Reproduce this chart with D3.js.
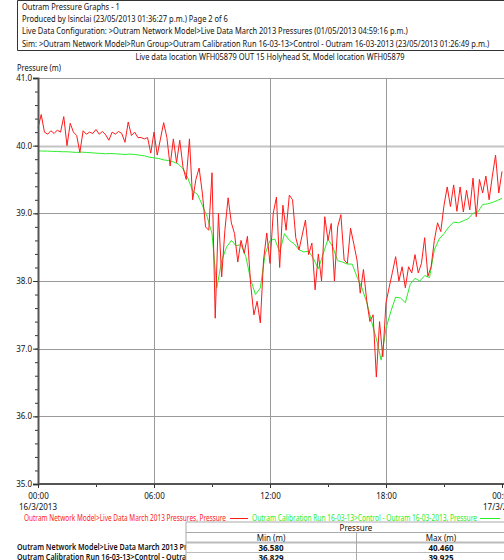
<!DOCTYPE html>
<html>
<head>
<meta charset="utf-8">
<script src="https://cdn.jsdelivr.net/npm/d3@7/dist/d3.min.js"></script>
<style>
  body { margin: 0; background: #fff; }
  svg { display: block; font-family: "Noto Sans", sans-serif; }
</style>
</head>
<body>
<script>
//header text lines
var headerLines = [
    "Outram Pressure Graphs - 1",
    "Produced by lsinclai (23/05/2013 01:36:27 p.m.) Page 2 of 6",
    "Live Data Configuration: >Outram Network Model>Live Data March 2013 Pressures (01/05/2013 04:59:16 p.m.)",
    "Sim: >Outram Network Model>Run Group>Outram Calibration Run 16-03-13>Control - Outram 16-03-2013 (23/05/2013 01:26:49 p.m.)"
];
var chartTitle = "Live data location WFH05879 OUT 15 Holyhead St, Model location WFH05879";
var yTitle = "Pressure (m)";

//series names
var liveName = "Outram Network Model>Live Data March 2013 Pressures, Pressure";
var modelName = "Outram Calibration Run 16-03-13>Control - Outram 16-03-2013, Pressure";

//live data, 10 minute steps from 16/3/2013 00:00
var liveValues = [
    40.26, 40.46, 40.20, 40.17, 40.22, 40.18, 40.23, 40.20, 40.43, 40.00,
    40.33, 40.20, 40.15, 39.90, 40.22, 40.17, 40.20, 40.18, 40.24, 40.17,
    40.21, 40.16, 40.08, 40.20, 40.17, 40.21, 40.18, 40.05, 40.35, 40.15,
    40.20, 40.12, 40.12, 40.10, 40.12, 39.89, 40.20, 39.86, 40.10, 40.34,
    40.12, 39.70, 40.10, 39.75, 40.08, 39.68, 39.50, 40.10, 39.20, 39.50,
    39.67, 39.30, 38.80, 38.75, 39.60, 37.45, 39.00, 38.06, 38.75, 39.23,
    38.86, 38.70, 38.28, 38.60, 38.41, 38.66, 37.95, 37.50, 37.70, 37.38,
    38.31, 38.71, 38.26, 39.00, 39.24, 38.20, 39.12, 38.75, 39.27, 39.20,
    38.64, 38.46, 38.68, 38.90, 38.39, 38.56, 37.87, 38.40, 38.00, 38.95,
    38.60, 38.85, 38.00, 38.80, 38.98, 38.31, 38.26, 38.78, 38.55, 38.31,
    37.82, 38.17, 37.72, 37.40, 37.50, 36.58, 37.40, 36.88, 37.68, 37.91,
    38.13, 38.36, 38.00, 38.21, 37.90, 38.21, 38.12, 38.39, 38.12, 38.26,
    38.64, 38.07, 38.21, 38.60, 38.86, 38.73, 39.12, 39.39, 39.10, 39.42,
    39.03, 39.39, 39.02, 39.34, 39.05, 39.52, 38.95, 39.50, 39.30, 39.55,
    39.20, 39.55, 39.86, 39.30, 39.62
];

//model data, 15 minute steps from 16/3/2013 00:00
var modelValues = [
    39.925, 39.92, 39.92, 39.915, 39.915, 39.91, 39.91, 39.905, 39.90, 39.905,
    39.90, 39.895, 39.89, 39.885, 39.88, 39.885, 39.88, 39.875, 39.87, 39.875,
    39.87, 39.86, 39.85, 39.83, 39.82, 39.81, 39.79, 39.78, 39.76, 39.73,
    39.66, 39.52, 39.33, 39.28, 39.12, 38.95, 38.70, 37.90, 38.30, 38.50,
    38.60, 38.52, 38.54, 38.36, 38.02, 37.80, 37.90, 38.40, 38.60, 38.62,
    38.43, 38.70, 38.60, 38.55, 38.46, 38.43, 38.44, 38.33, 38.18, 38.40,
    38.62, 38.50, 38.30, 38.28, 38.25, 38.25, 38.06, 37.90, 37.69, 37.40,
    37.15, 36.83, 37.30, 37.55, 37.76, 37.75, 37.68, 37.95, 38.04, 38.00,
    38.08, 38.05, 38.46, 38.62, 38.70, 38.80, 38.87, 38.86, 38.89, 38.92,
    39.00, 39.02, 39.13, 39.14, 39.16, 39.19, 39.22
];

//axis ticks
var yTicks = [35, 36, 37, 38, 39, 40, 41];
var xTickHours = [0, 6, 12, 18, 24];
var xMinorHours = [3, 9, 15, 21];

//summary table
var tableHeader = "Pressure";
var tableCols = ["Min (m)", "Max (m)"];
var tableRows = [
    "Outram Network Model>Live Data March 2013 Pressures, Pressure",
    "Outram Calibration Run 16-03-13>Control - Outram 16-03-2013, Pressure"
];
var tableMin = ["36.580", "36.829"];
var tableMax = ["40.460", "39.925"];

var w = 504, h = 560;
var plotLeft = 38, plotRight = 502, plotTop = 78, plotBottom = 484;

var start = new Date(2013, 2, 16, 0, 0);
var end = new Date(2013, 2, 17, 0, 0);
function atHour(hr){ return d3.timeMinute.offset(start, hr * 60); }

//the source font is narrower than Noto Sans, so texts get squeezed
function fit(sel, width){
    sel.attr("textLength", width).attr("lengthAdjust", "spacingAndGlyphs");
}
function squeeze(sel, k){
    sel.each(function(){
        var n = this.getComputedTextLength();
        d3.select(this).attr("textLength", n * k).attr("lengthAdjust", "spacingAndGlyphs");
    });
}

var live = liveValues.map(function(v, i){ return {t: d3.timeMinute.offset(start, i * 10), v: v}; });
var model = modelValues.map(function(v, i){ return {t: d3.timeMinute.offset(start, i * 15), v: v}; });

var svg = d3.select("body").append("svg")
    .attr("width", w)
    .attr("height", h);

var x = d3.scaleTime().domain([start, end]).range([plotLeft, plotRight]);
var y = d3.scaleLinear().domain([35, 41]).range([plotBottom, plotTop]);

//header box
var hdr = svg.append("g").attr("class", "header");
hdr.append("path")
    .attr("d", "M504,0.5 H17.5 V50.5 H504")
    .attr("fill", "none")
    .attr("stroke", "#333")
    .attr("stroke-width", 1);
hdr.selectAll("text")
    .data(headerLines)
    .enter()
    .append("text")
    .attr("x", 22)
    .attr("y", function(d, i){ return 10 + i * 12.2; })
    .attr("font-size", 8)
    .attr("fill", "#111")
    .text(function(d){ return d; })
    .call(squeeze, 0.935);

svg.append("text")
    .attr("x", (plotLeft + plotRight) / 2)
    .attr("y", 60)
    .attr("text-anchor", "middle")
    .attr("font-size", 8)
    .attr("fill", "#111")
    .text(chartTitle)
    .call(squeeze, 0.935);

svg.append("text")
    .attr("x", 17)
    .attr("y", 71)
    .attr("font-size", 8)
    .attr("fill", "#111")
    .text(yTitle)
    .call(squeeze, 0.935);

//gridlines
var grid = svg.append("g").attr("class", "grid");
grid.selectAll(".hgrid")
    .data(yTicks.slice(1))
    .enter()
    .append("line")
    .attr("x1", plotLeft)
    .attr("x2", w)
    .attr("y1", function(d){ return Math.round(y(d)) + 0.5; })
    .attr("y2", function(d){ return Math.round(y(d)) + 0.5; })
    .attr("stroke", function(d){ return d === 40 ? "#c4c4c4" : "#9a9a9a"; })
    .attr("stroke-width", function(d){ return d === 40 ? 2 : 1; });
grid.selectAll(".vgrid")
    .data([6, 12, 18])
    .enter()
    .append("line")
    .attr("x1", function(d){ return Math.round(x(atHour(d))) + 0.5; })
    .attr("x2", function(d){ return Math.round(x(atHour(d))) + 0.5; })
    .attr("y1", plotTop)
    .attr("y2", plotBottom)
    .attr("stroke", "#9a9a9a");

//series lines
var line = d3.line()
    .x(function(d){ return x(d.t); })
    .y(function(d){ return y(d.v); });

svg.append("path")
    .datum(model)
    .attr("d", line)
    .attr("fill", "none")
    .attr("stroke", "#2aee2a")
    .attr("stroke-width", 1);

svg.append("path")
    .datum(live)
    .attr("d", line)
    .attr("fill", "none")
    .attr("stroke", "#ff1a1a")
    .attr("stroke-width", 1);

//y axis
var yMinor = svg.append("g")
    .attr("transform", "translate(" + plotLeft + ",0)")
    .call(d3.axisLeft(y).ticks(30).tickSize(3).tickFormat(""));
yMinor.select(".domain").remove();
yMinor.selectAll("line").attr("stroke", "#333");

var yAxis = svg.append("g")
    .attr("transform", "translate(" + plotLeft + ",0)")
    .call(d3.axisLeft(y).tickValues(yTicks).tickSize(5).tickPadding(1).tickFormat(d3.format(".1f")));
yAxis.select(".domain").attr("stroke", "#555").attr("stroke-width", 2);
yAxis.selectAll("line").attr("stroke", "#333");
yAxis.selectAll("text").attr("font-size", 8).attr("fill", "#111").attr("font-family", "Noto Sans");

//x axis
var xMinor = svg.append("g")
    .attr("transform", "translate(0," + plotBottom + ")")
    .call(d3.axisBottom(x).tickValues(xMinorHours.map(atHour)).tickSize(3).tickFormat(""));
xMinor.select(".domain").remove();
xMinor.selectAll("line").attr("stroke", "#333");

var xAxis = svg.append("g")
    .attr("transform", "translate(0," + plotBottom + ")")
    .call(d3.axisBottom(x).tickValues(xTickHours.map(atHour)).tickSize(4).tickPadding(5).tickFormat(d3.timeFormat("%H:%M")));
xAxis.select(".domain").attr("stroke", "#555").attr("stroke-width", 2).attr("d", "M" + plotLeft + ",0H" + w);
xAxis.selectAll("line").attr("stroke", "#333");
xAxis.selectAll("text").attr("font-size", 8).attr("fill", "#111").attr("font-family", "Noto Sans");

//date labels under midnight ticks
svg.selectAll(".dateLabel")
    .data([start, end])
    .enter()
    .append("text")
    .attr("class", "dateLabel")
    .attr("x", function(d){ return x(d); })
    .attr("y", 510)
    .attr("text-anchor", "middle")
    .attr("font-size", 8)
    .attr("fill", "#111")
    .text(function(d){ return d3.timeFormat("%-d/%-m/%Y")(d); });

//legend
var legend = svg.append("g").attr("class", "legend");
legend.append("text")
    .attr("x", 24)
    .attr("y", 521)
    .attr("font-size", 8)
    .attr("fill", "#ff1a1a")
    .text(liveName)
    .call(fit, 202);
legend.append("line")
    .attr("x1", 230).attr("x2", 248)
    .attr("y1", 518.5).attr("y2", 518.5)
    .attr("stroke", "#ff1a1a");
legend.append("text")
    .attr("x", 252)
    .attr("y", 521)
    .attr("font-size", 8)
    .attr("fill", "#2aee2a")
    .text(modelName)
    .call(fit, 225);
legend.append("line")
    .attr("x1", 480).attr("x2", 500)
    .attr("y1", 518.5).attr("y2", 518.5)
    .attr("stroke", "#2aee2a");

//summary table
var tbl = svg.append("g").attr("class", "table");
tbl.selectAll(".rowLabel")
    .data(tableRows)
    .enter()
    .append("text")
    .attr("x", 17)
    .attr("y", function(d, i){ return 550 + i * 10; })
    .attr("font-size", 8)
    .attr("font-weight", 600)
    .attr("fill", "#111")
    .text(function(d){ return d; })
    .call(squeeze, 0.89);
tbl.append("rect")
    .attr("x", 186).attr("y", 522)
    .attr("width", 340).attr("height", 40)
    .attr("fill", "#fff")
    .attr("stroke", "#aaa");
tbl.append("line").attr("x1", 186).attr("x2", 526).attr("y1", 532.5).attr("y2", 532.5).attr("stroke", "#aaa");
tbl.append("line").attr("x1", 186).attr("x2", 526).attr("y1", 542.5).attr("y2", 542.5).attr("stroke", "#bbb").attr("stroke-width", 2);
tbl.append("line").attr("x1", 186).attr("x2", 526).attr("y1", 552.5).attr("y2", 552.5).attr("stroke", "#bbb");
tbl.append("line").attr("x1", 356.5).attr("x2", 356.5).attr("y1", 532).attr("y2", 562).attr("stroke", "#aaa");
tbl.append("text")
    .attr("x", 356).attr("y", 530.5)
    .attr("text-anchor", "middle")
    .attr("font-size", 8).attr("fill", "#111")
    .text(tableHeader);
tbl.selectAll(".colHead")
    .data(tableCols)
    .enter()
    .append("text")
    .attr("x", function(d, i){ return 271 + i * 170; })
    .attr("y", 540.5)
    .attr("text-anchor", "middle")
    .attr("font-size", 8).attr("fill", "#111")
    .text(function(d){ return d; });
[tableMin, tableMax].forEach(function(col, c){
    tbl.selectAll(".val" + c)
        .data(col)
        .enter()
        .append("text")
        .attr("x", 271 + c * 170)
        .attr("y", function(d, i){ return 550.5 + i * 10; })
        .attr("text-anchor", "middle")
        .attr("font-size", 8)
        .attr("font-weight", "bold")
        .attr("fill", "#111")
        .text(function(d){ return d; });
});
</script>
</body>
</html>
